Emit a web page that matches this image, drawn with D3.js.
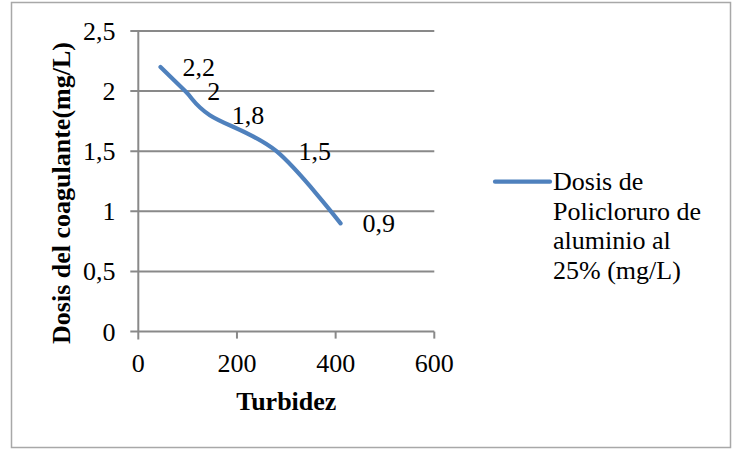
<!DOCTYPE html>
<html>
<head>
<meta charset="utf-8">
<script src="https://cdn.jsdelivr.net/npm/d3@7"></script>
<style>
  html, body { margin: 0; padding: 0; background: #fff; }
  svg { display: block; }
  text { font-family: "Liberation Serif", "Times New Roman", serif; fill: #000; }
</style>
</head>
<body>
<svg id="chart" width="732" height="449"></svg>
<script>
// ---- data ----
const turbidez = [45, 95, 145, 280, 410];
const dosis = [2.2, 2, 1.8, 1.5, 0.9];
const dataLabels = ["2,2", "2", "1,8", "1,5", "0,9"];
const xTicks = [0, 200, 400, 600];
const yTicks = [0, 0.5, 1, 1.5, 2, 2.5];
const yTickLabels = ["0", "0,5", "1", "1,5", "2", "2,5"];
const xTitle = "Turbidez";
const yTitle = "Dosis del coagulante(mg/L)";
const legendLines = ["Dosis de", "Policloruro de", "aluminio al", "25% (mg/L)"];

const fontSize = 26;
const gridColor = "#898989";
const lineColor = "#4f81bd";

const svg = d3.select("#chart");

// outer border
svg.append("rect")
  .attr("x", 11.5).attr("y", 2.5)
  .attr("width", 719).attr("height", 445)
  .attr("fill", "none").attr("stroke", "#a8a8a8").attr("stroke-width", 1.5);

const x = d3.scaleLinear().domain([0, 600]).range([138.3, 434.3]);
const y = d3.scaleLinear().domain([0, 2.5]).range([331.6, 31]);

// horizontal gridlines (with outward tick on the left)
svg.append("g").selectAll("line").data(yTicks).join("line")
  .attr("x1", x(0) - 8).attr("x2", x(600))
  .attr("y1", d => y(d)).attr("y2", d => y(d))
  .attr("stroke", gridColor).attr("stroke-width", 2);

// vertical axis line
svg.append("line")
  .attr("x1", x(0)).attr("x2", x(0))
  .attr("y1", y(2.5)).attr("y2", y(0) + 8)
  .attr("stroke", gridColor).attr("stroke-width", 2);

// x ticks
svg.append("g").selectAll("line").data(xTicks.slice(1)).join("line")
  .attr("x1", d => x(d)).attr("x2", d => x(d))
  .attr("y1", y(0)).attr("y2", y(0) + 7)
  .attr("stroke", gridColor).attr("stroke-width", 2);

// y tick labels
svg.append("g").selectAll("text").data(yTicks).join("text")
  .attr("x", 115.5).attr("y", d => y(d) + 9)
  .attr("text-anchor", "end")
  .attr("font-size", fontSize)
  .text((d, i) => yTickLabels[i]);

// x tick labels
svg.append("g").selectAll("text").data(xTicks).join("text")
  .attr("x", d => x(d)).attr("y", 372)
  .attr("text-anchor", "middle")
  .attr("font-size", fontSize)
  .text(d => String(d));

// axis titles
svg.append("text")
  .attr("x", (x(0) + x(600)) / 2).attr("y", 410)
  .attr("text-anchor", "middle")
  .attr("font-size", fontSize).attr("font-weight", "bold")
  .text(xTitle);

svg.append("text")
  .attr("transform", "translate(70,193) rotate(-90)")
  .attr("text-anchor", "middle")
  .attr("font-size", fontSize).attr("font-weight", "bold")
  .text(yTitle);

// series line
const pts = turbidez.map((t, i) => [t, dosis[i]]);
const line = d3.line()
  .x(d => x(d[0])).y(d => y(d[1]))
  .curve(d3.curveCatmullRom.alpha(0));
svg.append("path")
  .datum(pts)
  .attr("d", line)
  .attr("fill", "none")
  .attr("stroke", lineColor)
  .attr("stroke-width", 4.2)
  .attr("stroke-linecap", "round")
  .attr("stroke-linejoin", "round");

// data labels
svg.append("g").selectAll("text").data(pts).join("text")
  .attr("x", d => x(d[0]) + 22).attr("y", d => y(d[1]) + 9)
  .attr("font-size", fontSize)
  .text((d, i) => dataLabels[i]);

// legend
svg.append("line")
  .attr("x1", 495).attr("x2", 550)
  .attr("y1", 181.7).attr("y2", 181.7)
  .attr("stroke", lineColor).attr("stroke-width", 4.2)
  .attr("stroke-linecap", "round");

svg.append("g").selectAll("text").data(legendLines).join("text")
  .attr("x", 553).attr("y", (d, i) => 190 + i * 29.7)
  .attr("font-size", fontSize)
  .text(d => d);
</script>
</body>
</html>
